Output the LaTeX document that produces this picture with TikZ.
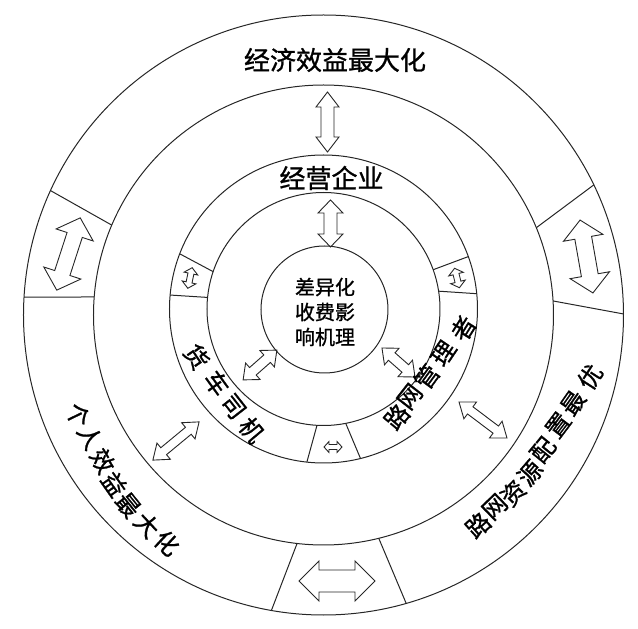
\documentclass[tikz,border=0pt]{standalone}
\usepackage{fontspec}
\newfontfamily\zh[FakeBold=1]{Noto Sans CJK SC}

\begin{document}
\begin{tikzpicture}
[x=1pt, y=1pt, ring/.style={draw=black!85, line width=1pt},
 big/.style={font=\zh\fontsize{26}{26}\selectfont, inner sep=0pt},
 arctxt/.style={font=\zh\fontsize{24}{24}\selectfont, inner sep=0pt},
 core/.style={font=\zh\fontsize{20}{25}\selectfont, align=center, inner sep=0pt},
 pics/dbl/.style n args={4}{code={
   \draw[ring, line width=0.9pt] (-#1,0) -- (-#1+#4,#2) -- (-#1+#4,#3) -- (#1-#4,#3) -- (#1-#4,#2) -- (#1,0)
     -- (#1-#4,-#2) -- (#1-#4,-#3) -- (-#1+#4,-#3) -- (-#1+#4,-#2) -- cycle;}}]
%[outer rings centred on O, inner rings on I]

\useasboundingbox (-323.5,-314) rectangle (314.5,315);
\coordinate (O) at (0,0);
\coordinate (I) at (0,6);
\coordinate (C) at (1,5.5);

\draw[ring] (O) circle[radius=300] (O) circle[radius=230];
\draw[ring] (I) circle[radius=154] (I) circle[radius=116.5];
\draw[ring] (C) circle[radius=63.5];

\foreach \a/\b in {157/155.5, 175.5/176.6, 263.4/260, 283.9/286, 3.5/0.2, 22.3/25.7}
	\draw[ring] (\a:230) -- (\b:300);
\foreach \a/\b in {161.3/159, 174.3/174.8, 266.8/263.8, 281/283.9, 8.8/5.7, 19.7/19.9}
	\draw[ring, shift={(I)}] (\a:116.5) -- (\b:154);

% block arrows
\pic[rotate=90] (aTop) at (4,193) {dbl={30}{11.5}{6.5}{15}};
\pic[rotate=90] (aMid) at (7,91.5) {dbl={23.5}{12.5}{6.5}{13}};
\pic[rotate=72] (aLeft) at (-255,61) {dbl={38}{19.5}{8}{18}};
\pic[rotate=100] (aRight) at (263,58.5) {dbl={37}{20}{8.5}{18}};
\pic (aBottom) at (13.5,-266) {dbl={38}{20}{11}{20}};
\pic[rotate=39.6] (aDL) at (-147.5,-126) {dbl={30}{10.5}{4.5}{14}};
\pic[rotate=-36.9] (aDR) at (159.5,-105) {dbl={30}{10.5}{4.5}{14}};
\pic[rotate=41.4] (aIL) at (-63.5,-50) {dbl={22.5}{11}{5}{13}};
\pic[rotate=-41.3] (aIR) at (75,-47.5) {dbl={22}{11}{5}{13}};
\pic[rotate=78] (sLeft) at (-133.5,37) {dbl={10.5}{7}{3}{6}};
\pic[rotate=104] (sRight) at (133.5,37) {dbl={10}{7.5}{3}{6}};
\pic (sBottom) at (9.5,-132) {dbl={9}{5.5}{2.5}{5}};

\node[big] (econ) at (11.5,255) {经济效益最大化};
\node[big] (firm) at (8,137) {经营企业};
\node[core] (core) at (1.5,3) {差异化\\收费影\\响机理};

\foreach \ch/\px/\py/\rot [count=\i] in {个/-245.5/-100/-64, 人/-233.5/-122/-62, 效/-221/-146/-59, 益/-209/-169/-55,
	最/-195.5/-190/-51, 大/-176.5/-210/-47, 化/-156.5/-228/-43}
	\node[arctxt, rotate=\rot] (pers\i) at (\px,\py) {\ch};
\foreach \ch/\px/\py/\rot [count=\i] in {路/154.5/-210/42, 网/171.5/-192/44, 资/189.5/-178/46, 源/206.5/-158/49,
	配/219.5/-135/51, 置/234.5/-110/53, 最/249.5/-88/55, 优/266.5/-62/57}
	\node[arctxt, rotate=\rot] (net\i) at (\px,\py) {\ch};
\foreach \ch/\px/\py/\rot [count=\i] in {货/-126.8/-41.7/-56, 车/-106.8/-68.3/-54, 司/-90.2/-91.7/-52, 机/-71.8/-115/-50}
	\node[arctxt, rotate=\rot] (drv\i) at (\px,\py) {\ch};
\foreach \ch/\px/\py/\rot [count=\i] in {路/73.2/-101.7/50, 网/86.5/-81.7/52, 管/103.2/-61.7/54, 理/119.8/-38.3/56, 者/139.8/-13.3/58}
	\node[arctxt, rotate=\rot] (mgr\i) at (\px,\py) {\ch};
\end{tikzpicture}
\end{document}
